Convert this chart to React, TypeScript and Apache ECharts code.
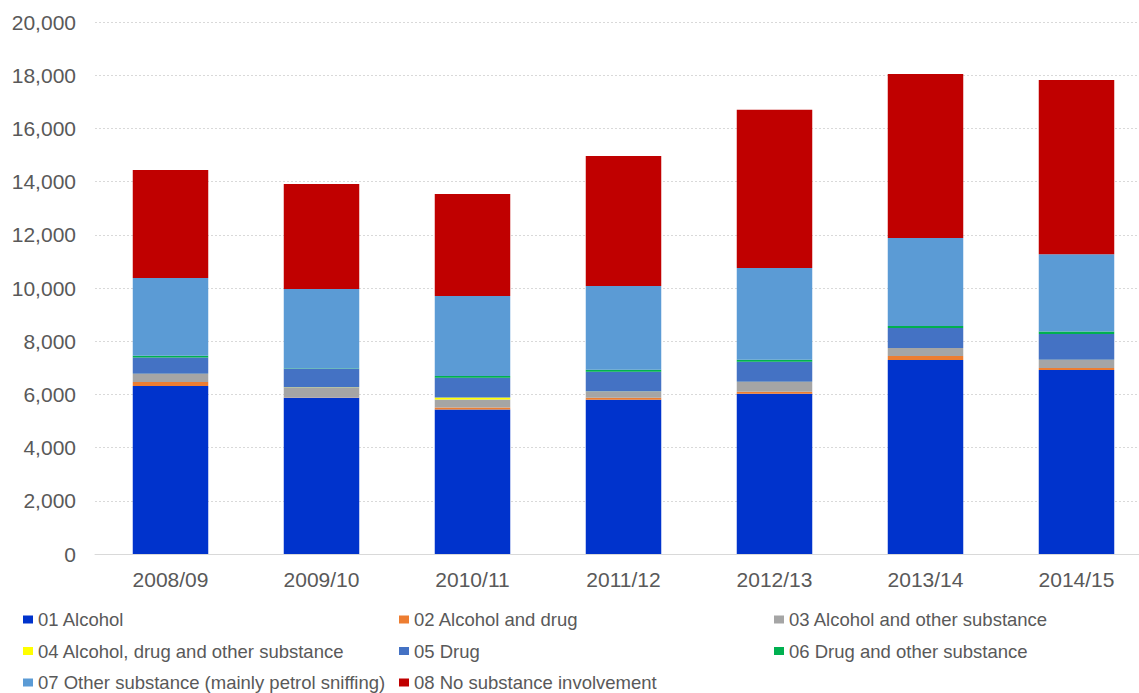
import React, { useEffect, useRef } from "react";
import * as echarts from "echarts";

const categories = ["2008/09", "2009/10", "2010/11", "2011/12", "2012/13", "2013/14", "2014/15"];
const seriesNames = [
  "01 Alcohol",
  "02 Alcohol and drug",
  "03 Alcohol and other substance",
  "04 Alcohol, drug and other substance",
  "05 Drug",
  "06 Drug and other substance",
  "07 Other substance (mainly petrol sniffing)",
  "08 No substance involvement",
];
const alcohol = [6320, 5870, 5430, 5800, 6020, 7290, 6920];
const alcoholDrug = [150, 15, 75, 75, 75, 150, 75];
const alcoholOther = [300, 375, 300, 225, 375, 300, 300];
const alcoholDrugOther = [10, 5, 75, 5, 5, 5, 5];
const drug = [610, 690, 750, 750, 750, 750, 975];
const drugOther = [60, 15, 65, 75, 75, 75, 85];
const otherSubstance = [2930, 2990, 3000, 3145, 3450, 3310, 2910];
const noSubstance = [4060, 3950, 3835, 4890, 5950, 6165, 6550];
const seriesValues = [alcohol, alcoholDrug, alcoholOther, alcoholDrugOther, drug, drugOther, otherSubstance, noSubstance];
const colors = ["#0033CC", "#ED7D31", "#A5A5A5", "#FFFF00", "#4472C4", "#00B050", "#5B9BD5", "#C00000"];
const yTicks = { min: 0, max: 20000, interval: 2000 };

const FONT = "'Liberation Sans', Arial, sans-serif";

export default function App() {
  const ref = useRef<HTMLDivElement>(null);
  useEffect(() => {
    if (!ref.current) return;
    const chart = echarts.init(ref.current, null, { renderer: "svg" });
    const legendText = { color: "#595959", fontSize: 18.5, fontFamily: FONT, lineHeight: 18 };
    const mkLegend = (left: number, names: string[]) => ({
      orient: "vertical" as const,
      left,
      top: 610,
      itemWidth: 10,
      itemHeight: 8,
      itemGap: 12.5,
      icon: "rect",
      textStyle: legendText,
      padding: 0,
      data: names,
    });
    chart.setOption({
      animation: false,
      color: colors,
      textStyle: { fontFamily: FONT },
      legend: [
        mkLegend(23, [seriesNames[0], seriesNames[3], seriesNames[6]]),
        mkLegend(399, [seriesNames[1], seriesNames[4], seriesNames[7]]),
        mkLegend(774, [seriesNames[2], seriesNames[5]]),
      ],
      grid: { left: 95, right: 0, top: 22, bottom: 166, containLabel: false },
      xAxis: {
        type: "category",
        data: categories,
        axisTick: { show: false },
        axisLine: { lineStyle: { color: "#D9D9D9", width: 1 } },
        axisLabel: { color: "#595959", fontSize: 21, fontFamily: FONT, margin: 15 },
      },
      yAxis: {
        type: "value",
        min: yTicks.min,
        max: yTicks.max,
        interval: yTicks.interval,
        axisLine: { show: false },
        axisTick: { show: false },
        splitLine: { lineStyle: { color: "#D9D9D9", type: [2, 2], width: 1 } },
        axisLabel: {
          color: "#595959",
          fontSize: 21,
          fontFamily: FONT,
          margin: 19,
          formatter: (v: number) => v.toLocaleString("en-US"),
        },
      },
      series: seriesNames.map((name, i) => ({
        name,
        type: "bar",
        stack: "total",
        barWidth: "50%",
        data: seriesValues[i],
        itemStyle: { color: colors[i] },
      })),
    });
    return () => chart.dispose();
  }, []);
  return (
    <div style={{ position: "fixed", left: 0, top: 0, width: 1139, height: 693, overflow: "hidden", background: "#fff" }}>
      <div ref={ref} style={{ width: 1152, height: 720 }} />
    </div>
  );
}
